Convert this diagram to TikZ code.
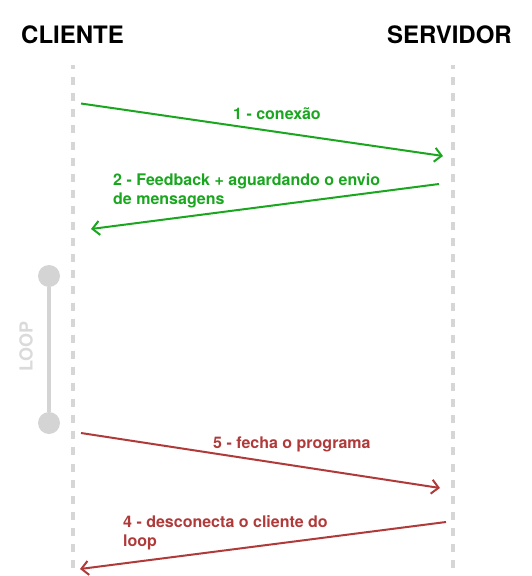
\documentclass[tikz,border=0pt]{standalone}
\usepackage{fontspec}
\setmainfont{TeX Gyre Heros}
\usetikzlibrary{arrows.meta}
\definecolor{msggreen}{HTML}{1AA61F}
\definecolor{msgred}{HTML}{B03A3A}
\definecolor{lifegray}{HTML}{D6D6D6}
\definecolor{loopgray}{HTML}{D4D4D4}
\definecolor{looptext}{HTML}{DADADA}
\begin{document}
\begin{tikzpicture}[x=1pt,y=-1pt,
  title/.style={font=\fontsize{24}{28}\selectfont\bfseries, inner sep=0pt},
  lifeline/.style={draw=lifegray, line width=4pt, dash pattern=on 8pt off 8.1pt, dash phase=4pt},
  msg/.style={line width=2pt, -{Straight Barb[length=7pt,width=14pt]}},
  lbl/.style={font=\fontsize{16}{19}\selectfont\bfseries, anchor=base west, inner sep=0pt},
  loopdot/.style={circle, fill=loopgray, minimum size=22pt, inner sep=0pt},
]
\useasboundingbox (0,0) rectangle (532,576);

% titles
\node[title, anchor=base west] (cli) at (21,43) {CLIENTE};
\node[title, anchor=base east] (srv) at (512,43) {SERVIDOR};

% lifelines
\coordinate (cliTop) at (73,65);
\coordinate (cliBot) at (73,568);
\coordinate (srvTop) at (452.5,65);
\coordinate (srvBot) at (452.5,568);
\draw[lifeline] (cliTop) -- (cliBot);
\draw[lifeline] (srvTop) -- (srvBot);

% loop marker
\node[loopdot] (loopA) at (49,276) {};
\node[loopdot] (loopB) at (49,423) {};
\draw[loopgray, line width=4pt] (loopA) -- (loopB);
\node[font=\fontsize{18}{20}\selectfont\bfseries, text=looptext, rotate=90, inner sep=0pt] (looplbl) at (26,346.5) {LOOP};

% message end points
\coordinate (m1s) at (81,103.5);
\coordinate (m1e) at (443,156);
\coordinate (m2s) at (439,184);
\coordinate (m2e) at (91,229);
\coordinate (m5s) at (81,433);
\coordinate (m5e) at (440,488);
\coordinate (m4s) at (446,522);
\coordinate (m4e) at (80,569);

\draw[msg, msggreen] (m1s) -- (m1e);
\draw[msg, msggreen] (m2s) -- (m2e);
\draw[msg, msgred] (m5s) -- (m5e);
\draw[msg, msgred] (m4s) -- (m4e);

% labels
\node[lbl, text=msggreen] (l1) at (233,119) {1 - conexão};
\node[lbl, text=msggreen] (l2a) at (113,185) {2 - Feedback + aguardando o envio};
\node[lbl, text=msggreen] (l2b) at (113,204) {de mensagens};
\node[lbl, text=msgred] (l5) at (213,448) {5 - fecha o programa};
\node[lbl, text=msgred] (l4a) at (123,527.5) {4 - desconecta o cliente do};
\node[lbl, text=msgred] (l4b) at (123,546.5) {loop};
\end{tikzpicture}
\end{document}
